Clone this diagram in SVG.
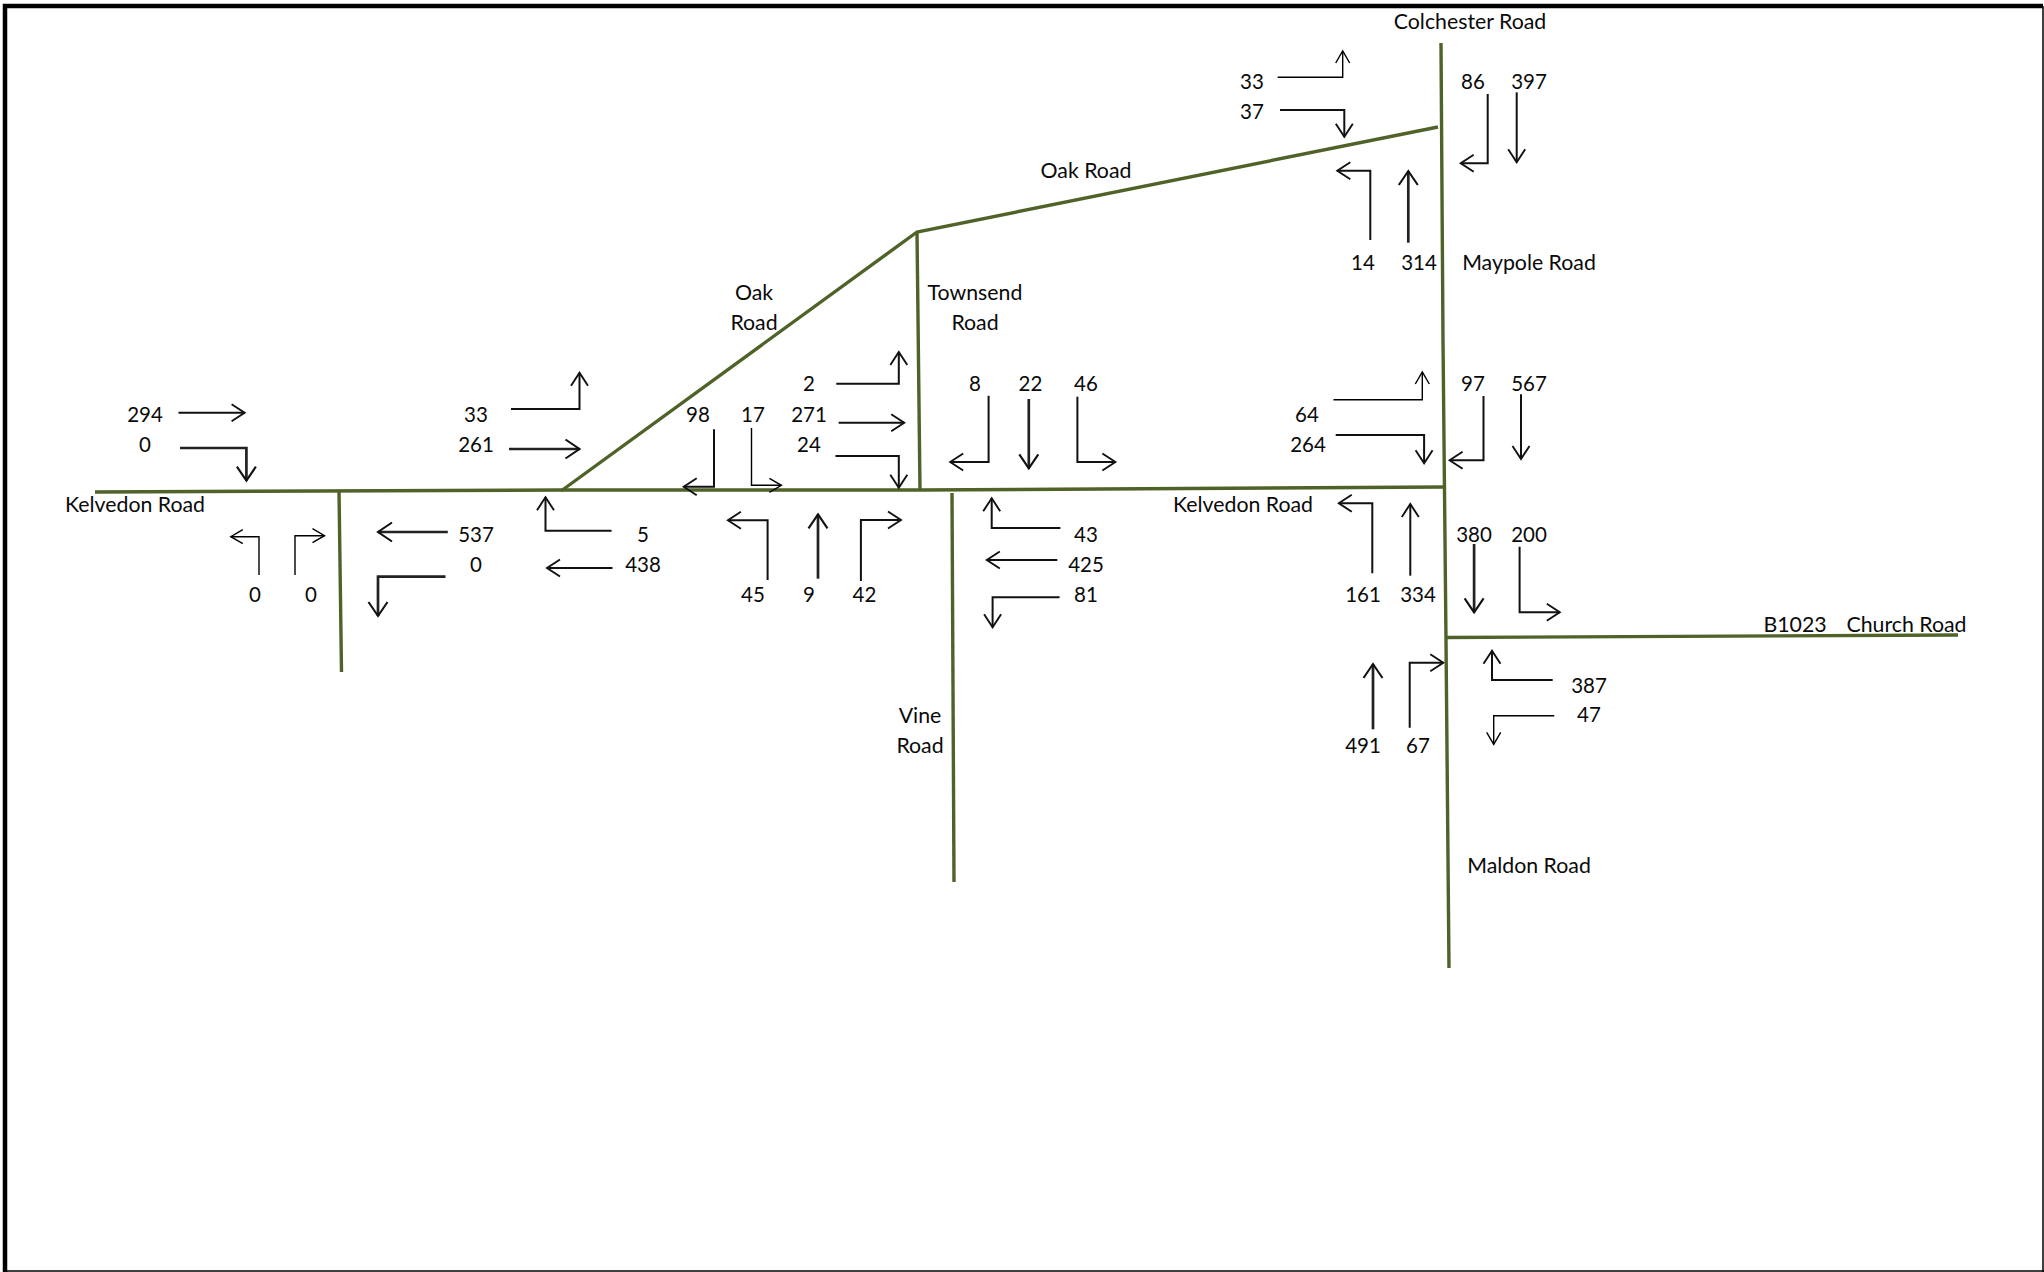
<svg xmlns="http://www.w3.org/2000/svg" width="2044" height="1272" viewBox="0 0 2044 1272">
<style>
text{font-family:"Lato","Open Sans","Liberation Sans",sans-serif;font-size:20.5px;fill:#0a0a0a;text-anchor:middle}
#road-labels text{font-size:21.3px}
.road{fill:none;stroke:#4f6228;stroke-width:3.4}
.t,.m,.b{fill:none;stroke-linejoin:miter}
.t{stroke:#000;stroke-width:1.4;marker-end:url(#hs)}
.m{stroke:#111;stroke-width:2;marker-end:url(#hm)}
.b{stroke:#222;stroke-width:2.7;marker-end:url(#hb)}
</style>
<defs>
<marker id="hs" markerUnits="userSpaceOnUse" markerWidth="30" markerHeight="30" refX="15" refY="15" orient="auto" overflow="visible"><path d="M3,8 L15,15 L3,22" fill="none" stroke="#000" stroke-width="1.4"/></marker>
<marker id="hm" markerUnits="userSpaceOnUse" markerWidth="30" markerHeight="30" refX="15" refY="15" orient="auto" overflow="visible"><path d="M2,6.500 L15,15 L2,23.500" fill="none" stroke="#111" stroke-width="1.9"/></marker>
<marker id="hb" markerUnits="userSpaceOnUse" markerWidth="30" markerHeight="30" refX="15" refY="15" orient="auto" overflow="visible"><path d="M1,5.500 L15,15 L1,24.500" fill="none" stroke="#111" stroke-width="2.1"/></marker>
</defs>
<rect width="2044" height="1272" fill="#fff"/>
<path id="border" d="M5,1272V6H2043" fill="none" stroke="#000" stroke-width="4.5"/>
<path d="M2043,6V1272M5,1271H2044" fill="none" stroke="#000" stroke-width="1.5"/>
<g id="roads">
<path class="road" d="M95,492L561,490L920,490L1444,487"/>
<path class="road" d="M339,490L341.5,672"/>
<path class="road" d="M561,491L917,232L1438,127"/>
<path class="road" d="M917,232L920,490"/>
<path class="road" d="M952,493L954,882"/>
<path class="road" d="M1441,43L1443,340L1446,640L1449,968"/>
<path class="road" d="M1446,637.500L1958,635"/>
</g>
<g id="connectors">
<path class="m" d="M178.500,412.700L244.600,412.700"/>
<path class="b" d="M180,448L246.400,448L246.400,480.700"/>
<path class="m" d="M511,409L579.500,409L579.500,372.700"/>
<path class="b" d="M509,449L579.500,449"/>
<path class="b" d="M447.800,532L378,532"/>
<path class="b" d="M445.500,576.700L378,576.700L378,616"/>
<path class="m" d="M611.600,530.700L545.500,530.700L545.500,497.300"/>
<path class="m" d="M612.500,568L547,568"/>
<path class="t" d="M259,575L259,536.700L230.800,536.700"/>
<path class="t" d="M295,575L295,535.700L324.500,535.700"/>
<path class="m" d="M836.300,383.700L898.800,383.700L898.800,352"/>
<path class="m" d="M838.600,422.700L904.200,422.700"/>
<path class="m" d="M835.400,456L898.800,456L898.800,487.700"/>
<path class="m" d="M714,429.300L714,486.700L683.700,486.700"/>
<path class="t" d="M751.500,428L751.500,485.300L781.400,485.300"/>
<path class="m" d="M988.600,395.700L988.600,462L950.200,462"/>
<path class="b" d="M1028.800,399L1028.800,468.300"/>
<path class="m" d="M1077.400,396.700L1077.400,462L1115.400,462"/>
<path class="m" d="M767.600,580L767.600,520.300L727.900,520.300"/>
<path class="b" d="M818,578.700L818,514.300"/>
<path class="m" d="M860.900,581L860.900,520L901,520"/>
<path class="m" d="M1060.400,528L991.700,528L991.700,498.300"/>
<path class="m" d="M1057.300,560L986.800,560"/>
<path class="m" d="M1059.600,597.300L992.600,597.300L992.600,627.300"/>
<path class="t" d="M1277.700,77.300L1342.700,77.300L1342.700,51"/>
<path class="m" d="M1280,110L1344.300,110L1344.300,136.700"/>
<path class="m" d="M1487.700,94L1487.700,163.300L1460.700,163.300"/>
<path class="m" d="M1516.700,92.300L1516.700,162.300"/>
<path class="m" d="M1370.300,240L1370.300,170.700L1337.300,170.700"/>
<path class="b" d="M1408.300,242.700L1408.300,171"/>
<path class="t" d="M1333.500,399.700L1422.300,399.700L1422.300,372"/>
<path class="m" d="M1335.700,435L1424.100,435L1424.100,463.300"/>
<path class="m" d="M1483.500,396L1483.500,460.300L1449.600,460.300"/>
<path class="m" d="M1521,394.300L1521,459"/>
<path class="m" d="M1372.300,573.300L1372.300,503.300L1338.800,503.300"/>
<path class="m" d="M1410.300,575.700L1410.300,504"/>
<path class="b" d="M1474.100,544L1474.100,612.300"/>
<path class="m" d="M1519.600,546.700L1519.600,612.300L1559.800,612.300"/>
<path class="b" d="M1373,729.300L1373,664"/>
<path class="m" d="M1409.700,727.700L1409.700,662.700L1443.300,662.700"/>
<path class="m" d="M1552.700,680L1492,680L1492,650.700"/>
<path class="t" d="M1554.300,715.700L1493.700,715.700L1493.700,744.300"/>
</g>
<g id="road-labels">
<text x="135" y="512">Kelvedon Road</text>
<text x="1243" y="512">Kelvedon Road</text>
<text x="1470" y="29">Colchester Road</text>
<text x="1529" y="270">Maypole Road</text>
<text x="1086" y="178">Oak Road</text>
<text x="754" y="300">Oak</text>
<text x="754" y="330">Road</text>
<text x="975" y="300">Townsend</text>
<text x="975" y="330">Road</text>
<text x="1795" y="632">B1023</text>
<text x="1906.500" y="632">Church Road</text>
<text x="1529" y="873">Maldon Road</text>
<text x="920" y="723">Vine</text>
<text x="920" y="753">Road</text>
</g>
<g id="counts">
<text x="145" y="422">294</text><text x="145" y="452">0</text>
<text x="476" y="422">33</text><text x="476" y="452">261</text>
<text x="476" y="542">537</text><text x="476" y="572">0</text>
<text x="643" y="542">5</text><text x="643" y="572">438</text>
<text x="255" y="602">0</text><text x="311" y="602">0</text>
<text x="809" y="391">2</text><text x="809" y="422">271</text><text x="809" y="452">24</text>
<text x="698" y="422">98</text><text x="753" y="422">17</text>
<text x="975" y="391">8</text><text x="1030.500" y="391">22</text><text x="1086" y="391">46</text>
<text x="1307" y="422">64</text><text x="1308" y="452">264</text>
<text x="1086" y="542">43</text><text x="1086" y="572">425</text><text x="1086" y="602">81</text>
<text x="753" y="602">45</text><text x="809" y="602">9</text><text x="864.500" y="602">42</text>
<text x="1252" y="89">33</text><text x="1252" y="119">37</text>
<text x="1473" y="89">86</text><text x="1529" y="89">397</text>
<text x="1363" y="270">14</text><text x="1419" y="270">314</text>
<text x="1473" y="391">97</text><text x="1529" y="391">567</text>
<text x="1474" y="542">380</text><text x="1529" y="542">200</text>
<text x="1363" y="602">161</text><text x="1418" y="602">334</text>
<text x="1363" y="753">491</text><text x="1418" y="753">67</text>
<text x="1589" y="693">387</text><text x="1589" y="722">47</text>
</g>
</svg>
